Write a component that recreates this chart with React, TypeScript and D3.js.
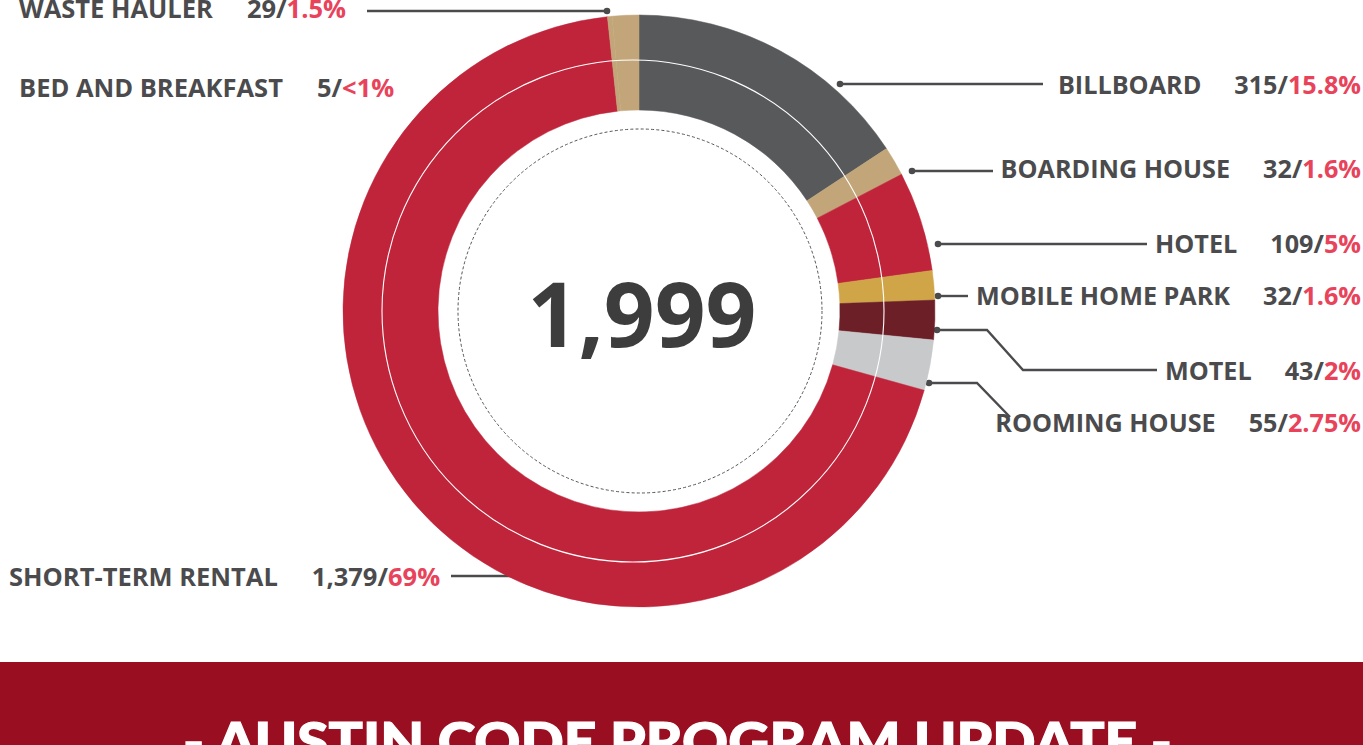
import React from "react";
import * as d3 from "d3";

const categories = [
  "BILLBOARD",
  "BOARDING HOUSE",
  "HOTEL",
  "MOBILE HOME PARK",
  "MOTEL",
  "ROOMING HOUSE",
  "SHORT-TERM RENTAL",
  "BED AND BREAKFAST",
  "WASTE HAULER",
];
const counts = [315, 32, 109, 32, 43, 55, 1379, 5, 29];
const countLabels = ["315", "32", "109", "32", "43", "55", "1,379", "5", "29"];
const percentLabels = ["15.8%", "1.6%", "5%", "1.6%", "2%", "2.75%", "69%", "<1%", "1.5%"];
const sliceColors = [
  "#58595b",
  "#c2a679",
  "#bf243a",
  "#cfa547",
  "#6d1f28",
  "#c8c9cb",
  "#bf243a",
  "#c2a679",
  "#c2a679",
];
const totalLabel = "1,999";
const bannerTitle = "- AUSTIN CODE PROGRAM UPDATE -";

// annotation layout (label placement and leader paths)
type LabelLayout = {
  side: "left" | "right";
  x: number;
  y: number;
  leader: [number, number][];
};
const labelLayout: Record<string, LabelLayout> = {
  "WASTE HAULER": { side: "left", x: 19, y: 18, leader: [[367, 11], [607, 11]] },
  "BED AND BREAKFAST": { side: "left", x: 19, y: 97, leader: [] },
  BILLBOARD: { side: "right", x: 1361, y: 94, leader: [[1043, 84], [840, 84]] },
  "BOARDING HOUSE": { side: "right", x: 1361, y: 178, leader: [[993, 171], [912, 171]] },
  HOTEL: { side: "right", x: 1361, y: 253, leader: [[1147, 244], [938, 244]] },
  "MOBILE HOME PARK": { side: "right", x: 1361, y: 305, leader: [[968, 296], [938, 296]] },
  MOTEL: { side: "right", x: 1361, y: 380, leader: [[1157, 370], [1023, 370], [987, 330], [937, 330]] },
  "ROOMING HOUSE": { side: "right", x: 1361, y: 432, leader: [[1010, 417], [977, 383], [929, 383]] },
  "SHORT-TERM RENTAL": { side: "left", x: 9, y: 586, leader: [[451, 576], [530, 576]] },
};

const W = 1363;
const H = 745;
const cx = 639;
const cy = 311;
const outerR = 296;
const innerR = 201;

const labelColor = "#4b4b4d";
const pctColor = "#e8435a";
const font = "'Open Sans', sans-serif";

export default function App() {
  const data = categories.map((c, i) => ({ name: c, value: counts[i], color: sliceColors[i] }));
  const pie = d3
    .pie<{ name: string; value: number; color: string }>()
    .sort(null)
    .value((d) => d.value)
    .startAngle(0)
    .endAngle(2 * Math.PI);
  const arcs = pie(data);
  const arc = d3
    .arc<d3.PieArcDatum<{ name: string; value: number; color: string }>>()
    .innerRadius(innerR)
    .outerRadius(outerR);
  const line = d3.line();

  return (
    <svg
      width={W}
      height={H}
      style={{ position: "absolute", left: 0, top: 0, display: "block" }}
      fontFamily={font}
    >
      <rect x={0} y={0} width={W} height={H} fill="#ffffff" />
      {/* leader lines (behind donut) */}
      {categories.map((c) => {
        const l = labelLayout[c];
        if (!l.leader.length) return null;
        const end = l.leader[l.leader.length - 1];
        return (
          <g key={"lead" + c}>
            <path d={line(l.leader) || ""} fill="none" stroke="#4b4b4d" strokeWidth={2.4} />
            {c !== "SHORT-TERM RENTAL" && <circle cx={end[0]} cy={end[1]} r={3.3} fill="#4b4b4d" />}
          </g>
        );
      })}
      <g transform={`translate(${cx},${cy})`}>
        {arcs.map((a) => (
          <path key={a.data.name} d={arc(a) || ""} fill={a.data.color} stroke={a.data.color} strokeWidth={0.5} />
        ))}
        <circle cx={-6} cy={0} r={251} fill="none" stroke="#ffffff" strokeWidth={1.1} />
        <circle cx={1} cy={0} r={182} fill="none" stroke="#555" strokeWidth={1} strokeDasharray="3,2.2" />
        <text
          x={3}
          y={36}
          textAnchor="middle"
          fontSize={89}
          fontWeight={700}
          fill="#3d3d3d"
          fontFamily={font}
        >
          {totalLabel}
        </text>
      </g>
      {/* labels */}
      {categories.map((c, i) => {
        const l = labelLayout[c];
        const right = l.side === "right";
        return (
          <text
            key={"lab" + c}
            x={l.x}
            y={l.y}
            textAnchor={right ? "end" : "start"}
            fontSize={right ? 25.2 : 25.5}
            fontWeight={700}
            fill={labelColor}
          >
            <tspan>{c}</tspan>
            <tspan dx={right ? 33 : 34}>{countLabels[i] + "/"}</tspan>
            <tspan fill={pctColor}>{percentLabels[i]}</tspan>
          </text>
        );
      })}
      {/* banner */}
      <rect x={0} y={662} width={W} height={H - 662} fill="#990e21" />
      <text
        x={183}
        y={761}
        fontSize={54}
        fontWeight={900}
        fill="#ffffff"
        stroke="#ffffff"
        strokeWidth={1.2}
        fontFamily="Lato, sans-serif"
        textLength={989}
        lengthAdjust="spacingAndGlyphs"
      >
        {bannerTitle}
      </text>
    </svg>
  );
}
